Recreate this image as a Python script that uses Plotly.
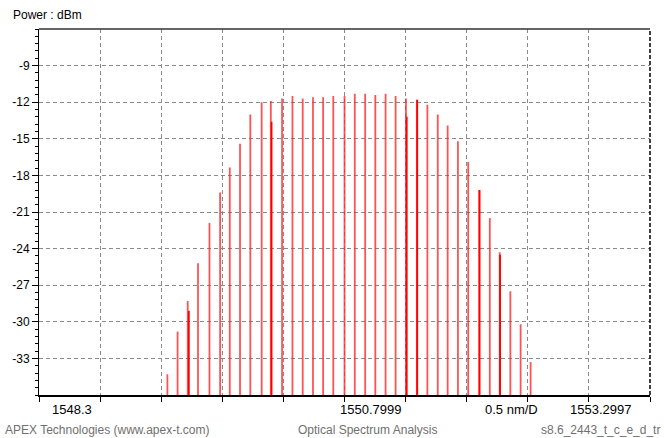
import plotly.graph_objects as go

# ---- data ----
wavelength_nm = [1549.3505, 1549.434, 1549.517, 1549.601, 1549.695, 1549.782, 1549.861,
                 1549.945, 1550.029, 1550.122, 1550.197, 1550.289, 1550.374, 1550.458,
                 1550.542, 1550.625, 1550.708, 1550.800, 1550.884, 1550.969, 1551.052,
                 1551.136, 1551.218, 1551.303, 1551.392, 1551.478, 1551.563, 1551.644,
                 1551.728, 1551.812, 1551.902, 1551.989, 1552.070, 1552.157, 1552.241,
                 1552.323]
power_dbm = [-34.3, -30.8, -28.3, -25.2, -21.9, -19.4, -17.35,
             -15.4, -13.0, -12.0, -11.9, -11.7, -11.5, -11.7,
             -11.6, -11.6, -11.5, -11.5, -11.3, -11.3, -11.4,
             -11.3, -11.5, -11.7, -11.8, -12.2, -13.0, -13.9,
             -15.2, -16.9, -19.2, -21.5, -24.3, -27.5, -30.2,
             -33.3]
# second sweep peaks (slightly offset, overlapping lines)
wavelength2_nm = [1549.526, 1550.203, 1551.309, 1551.395, 1551.905, 1552.073]
power2_dbm = [-29.1, -13.6, -13.2, -11.8, -19.2, -24.5]

x_start, x_center, x_stop = 1548.3, 1550.7999, 1553.2997
span_per_div = "0.5 nm/D"
y_min, y_max = -36, -6
y_tickvals = [-33, -30, -27, -24, -21, -18, -15, -12, -9]
y_ticktext = ["-33", "-30", "-27", "-24", "-21", "-18", "-15", "-12", "-9"]


def stems(xs, ys, base):
    sx, sy = [], []
    for xv, yv in zip(xs, ys):
        sx += [xv, xv, None]
        sy += [base, yv, None]
    return sx, sy


fig = go.Figure()
sx, sy = stems(wavelength_nm, power_dbm, y_min)
fig.add_trace(go.Scatter(x=sx, y=sy, mode="lines",
                         line=dict(color="rgba(255,40,40,0.8)", width=1.8),
                         hoverinfo="skip", showlegend=False))
sx2, sy2 = stems(wavelength2_nm, power2_dbm, y_min)
fig.add_trace(go.Scatter(x=sx2, y=sy2, mode="lines",
                         line=dict(color="#ff0000", width=1.8),
                         hoverinfo="skip", showlegend=False))

font = dict(family="Liberation Sans, Arial, sans-serif", size=12, color="#000000")
gray = "#707070"

fig.update_layout(
    width=664, height=438,
    margin=dict(l=36, r=14, t=29, b=43),
    paper_bgcolor="white", plot_bgcolor="white",
    font=font,
    xaxis=dict(range=[x_start, x_stop], tick0=x_start, dtick=0.5,
               showticklabels=False, ticks="outside", ticklen=5, tickcolor="#000",
               showgrid=True, gridcolor="#8a8a8a", griddash="4px,3px", gridwidth=1,
               showline=True, linecolor="#000", linewidth=1.5, zeroline=False),
    yaxis=dict(range=[y_min, y_max], tickmode="array", tickvals=y_tickvals,
               ticktext=y_ticktext, ticks="outside", ticklen=6, tickcolor="#000",
               tickfont=dict(family="Liberation Sans, Arial, sans-serif", size=12),
               showgrid=True, gridcolor="#8a8a8a", griddash="4px,3px", gridwidth=1,
               showline=True, linecolor="#000", linewidth=1, zeroline=False,
               minor=dict(dtick=0.6, tick0=y_min, ticks="outside", ticklen=3,
                          tickcolor="#000", showgrid=False)),
    shapes=[
        dict(type="line", xref="paper", yref="paper", x0=0, x1=1, y0=1, y1=1,
             line=dict(color="#333333", width=1.5)),
        dict(type="line", xref="paper", yref="paper", x0=1, x1=1, y0=0, y1=1,
             line=dict(color="#000000", width=1.5, dash="4px,2px")),
    ],
)

plot_w, plot_h = 614, 366


def px(xpix):
    return (xpix - 36) / plot_w


def py(ypix):
    return (395 - ypix) / plot_h


annotations = [
    dict(text="Power : dBm", x=px(8), y=py(15), xanchor="left", yanchor="middle",
         font=dict(size=12, color="#000")),
    dict(text=f"{x_start:g}", x=px(69), y=py(409), xanchor="center", yanchor="middle",
         font=dict(size=13, color="#000")),
    dict(text=f"{x_center:.4f}", x=px(369), y=py(409), xanchor="center", yanchor="middle",
         font=dict(size=13, color="#000")),
    dict(text=span_per_div, x=px(511), y=py(409), xanchor="center", yanchor="middle",
         font=dict(size=13, color="#000")),
    dict(text=f"{x_stop:.4f}", x=px(600), y=py(409), xanchor="center", yanchor="middle",
         font=dict(size=13, color="#000")),
    dict(text="APEX Technologies (www.apex-t.com)", x=px(0), y=py(430), xanchor="left",
         yanchor="middle", font=dict(size=12, color=gray)),
    dict(text="Optical Spectrum Analysis", x=px(366), y=py(430), xanchor="center",
         yanchor="middle", font=dict(size=12, color=gray)),
    dict(text="s8.6_2443_t_c_e_d_tr", x=px(662), y=py(430), xanchor="right",
         yanchor="middle", font=dict(size=12, color=gray)),
]
for a in annotations:
    a.update(xref="paper", yref="paper", showarrow=False)
fig.update_layout(annotations=annotations)

fig.write_html("out.html", config={"displayModeBar": False},
               post_script="document.body.style.margin='0';document.body.style.padding='0';"
                           "document.body.style.overflow='hidden';")
